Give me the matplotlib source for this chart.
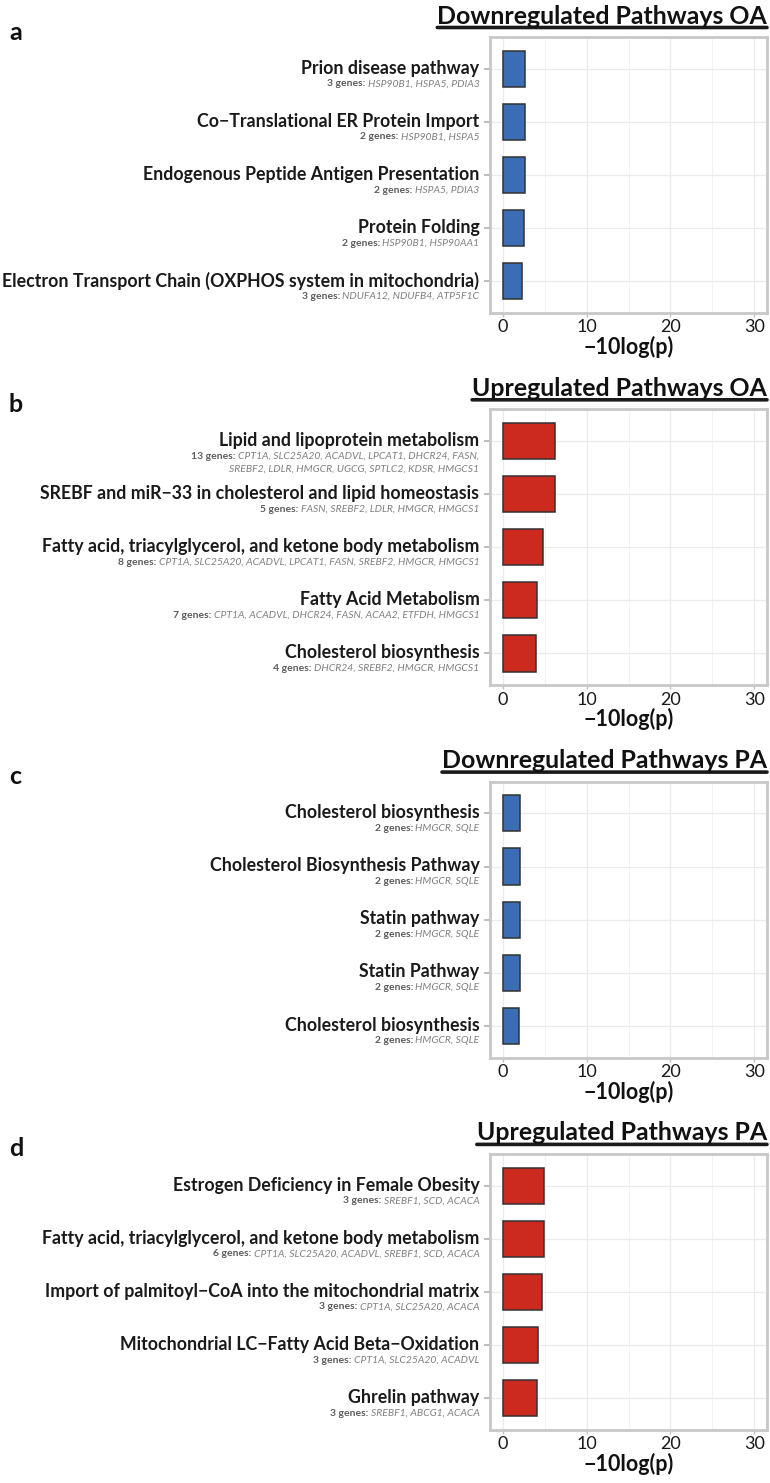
import matplotlib
matplotlib.use('Agg')
import matplotlib.pyplot as plt
import matplotlib.transforms as mtransforms

plt.rcParams['font.family'] = ['Lato', 'DejaVu Sans']

# pathway enrichment results, one block per panel (top bar first)
titles = ['Downregulated Pathways OA', 'Upregulated Pathways OA',
          'Downregulated Pathways PA', 'Upregulated Pathways PA']
panel_tags = ['a', 'b', 'c', 'd']
directions = ['down', 'up', 'down', 'up']

pathways_a = ['Prion disease pathway',
              'Co\u2212Translational ER Protein Import',
              'Endogenous Peptide Antigen Presentation',
              'Protein Folding',
              'Electron Transport Chain (OXPHOS system in mitochondria)']
scores_a = [2.66, 2.66, 2.66, 2.50, 2.34]
genes_a = [['HSP90B1', 'HSPA5', 'PDIA3'],
           ['HSP90B1', 'HSPA5'],
           ['HSPA5', 'PDIA3'],
           ['HSP90B1', 'HSP90AA1'],
           ['NDUFA12', 'NDUFB4', 'ATP5F1C']]

pathways_b = ['Lipid and lipoprotein metabolism',
              'SREBF and miR\u221233 in cholesterol and lipid homeostasis',
              'Fatty acid, triacylglycerol, and ketone body metabolism',
              'Fatty Acid Metabolism',
              'Cholesterol biosynthesis']
scores_b = [6.27, 6.27, 4.77, 4.13, 3.93]
genes_b = [['CPT1A', 'SLC25A20', 'ACADVL', 'LPCAT1', 'DHCR24', 'FASN',
            'SREBF2', 'LDLR', 'HMGCR', 'UGCG', 'SPTLC2', 'KDSR', 'HMGCS1'],
           ['FASN', 'SREBF2', 'LDLR', 'HMGCR', 'HMGCS1'],
           ['CPT1A', 'SLC25A20', 'ACADVL', 'LPCAT1', 'FASN', 'SREBF2',
            'HMGCR', 'HMGCS1'],
           ['CPT1A', 'ACADVL', 'DHCR24', 'FASN', 'ACAA2', 'ETFDH', 'HMGCS1'],
           ['DHCR24', 'SREBF2', 'HMGCR', 'HMGCS1']]

pathways_c = ['Cholesterol biosynthesis',
              'Cholesterol Biosynthesis Pathway',
              'Statin pathway',
              'Statin Pathway',
              'Cholesterol biosynthesis']
scores_c = [2.06, 2.06, 2.06, 2.02, 1.98]
genes_c = [['HMGCR', 'SQLE']] * 5

pathways_d = ['Estrogen Deficiency in Female Obesity',
              'Fatty acid, triacylglycerol, and ketone body metabolism',
              'Import of palmitoyl\u2212CoA into the mitochondrial matrix',
              'Mitochondrial LC\u2212Fatty Acid Beta\u2212Oxidation',
              'Ghrelin pathway']
scores_d = [4.92, 4.92, 4.68, 4.25, 4.09]
genes_d = [['SREBF1', 'SCD', 'ACACA'],
           ['CPT1A', 'SLC25A20', 'ACADVL', 'SREBF1', 'SCD', 'ACACA'],
           ['CPT1A', 'SLC25A20', 'ACACA'],
           ['CPT1A', 'SLC25A20', 'ACADVL'],
           ['SREBF1', 'ABCG1', 'ACACA']]

all_pathways = [pathways_a, pathways_b, pathways_c, pathways_d]
all_scores = [scores_a, scores_b, scores_c, scores_d]
all_genes = [genes_a, genes_b, genes_c, genes_d]

fill = {'down': '#3b6db5', 'up': '#cc2a1f'}


def gene_lines(genes):
    # long gene lists are broken over two lines
    if len(genes) > 10:
        half = len(genes) // 2
        return [', '.join(genes[:half]) + ',', ', '.join(genes[half:])]
    return [', '.join(genes)]


W, H = 770, 1483
fig = plt.figure(figsize=(W / 100, H / 100), dpi=100)

for i in range(4):
    top = 37 + i * 372.3
    ax = fig.add_axes([490 / W, 1 - (top + 276) / H, 277 / W, 276 / H])
    names = all_pathways[i]
    vals = all_scores[i]
    n = len(names)
    ypos = [n - k for k in range(n)]

    ax.barh(ypos, vals, height=0.68, color=fill[directions[i]],
            edgecolor='#333333', linewidth=1.1, zorder=3)
    ax.set_xlim(-1.5, 31.5)
    ax.set_ylim(0.4, n + 0.6)
    ax.set_xticks([0, 10, 20, 30])
    ax.set_xticks([5, 15, 25], minor=True)
    ax.set_yticks(ypos)
    ax.set_yticklabels([''] * n)
    ax.grid(which='major', color='#ebebeb', linewidth=0.9, zorder=0)
    ax.grid(which='minor', axis='x', color='#f0f0f0', linewidth=0.6, zorder=0)
    ax.set_axisbelow(True)
    for s in ax.spines.values():
        s.set_color('#c8c8c8')
        s.set_linewidth(2.0)
    ax.tick_params(axis='y', length=4.3, width=1.4, color='#bdbdbd')
    ax.tick_params(axis='x', length=3, width=1.0, color='#bdbdbd',
                   labelsize=13, labelcolor='#1a1a1a', pad=1.5)
    ax.tick_params(axis='x', which='minor', length=0)
    ax.set_xlabel('\u221210log(p)', fontsize=15.5, fontweight='bold',
                  color='#111111', labelpad=0.5)

    base = mtransforms.blended_transform_factory(ax.transAxes, ax.transData)
    name_tr = mtransforms.offset_copy(base, fig=fig, x=-7.6, y=0.5, units='points')
    for y, name, genes in zip(ypos, names, all_genes[i]):
        ax.text(0, y, name, transform=name_tr, ha='right', va='center',
                fontsize=12.8, fontweight='bold', color='#1a1a1a')
        for j, line in enumerate(gene_lines(genes)):
            line_tr = mtransforms.offset_copy(base, fig=fig, x=-7.6,
                                              y=-7.6 - 9.1 * j, units='points')
            gtxt = ax.text(0, y, line, transform=line_tr, ha='right',
                           va='top', fontsize=7.5, fontstyle='italic',
                           color='#808080')
            if j == 0:
                ax.annotate('%d genes: ' % len(genes), xy=(0, 1),
                            xycoords=gtxt, ha='right', va='top',
                            fontsize=7.5, fontweight='bold', color='#5c5c5c')

    ttl = fig.text(767 / W, 1 - (top - 21) / H, titles[i], ha='right',
                   va='center', fontsize=17.9, fontweight='bold',
                   color='#111111')
    ax.annotate('', xy=(1, 0), xycoords=ttl, xytext=(0, 0), textcoords=ttl,
                arrowprops=dict(arrowstyle='-', lw=2.6, color='#1a1a1a',
                                shrinkA=0, shrinkB=0))
    fig.text(9 / W, 1 - (top - 5) / H, panel_tags[i], ha='left', va='center',
             fontsize=18, fontweight='bold', color='#111111')

fig.savefig('out.png', dpi=100, facecolor='white')
